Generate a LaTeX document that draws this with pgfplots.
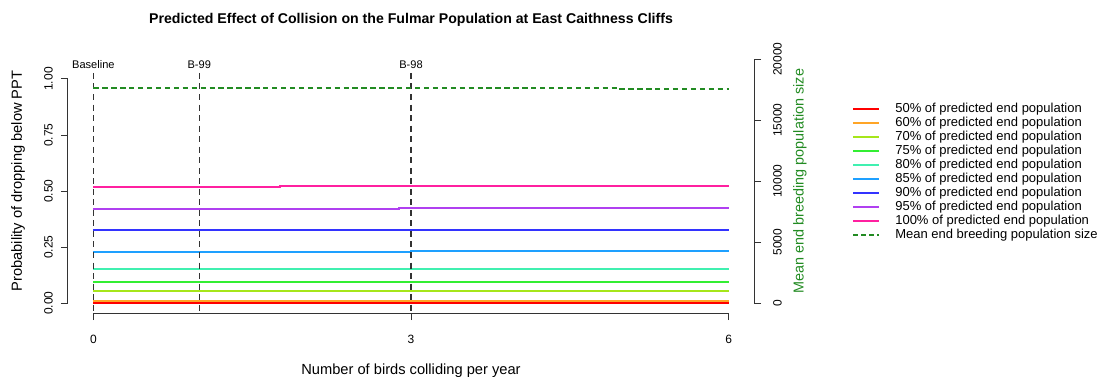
\documentclass[border=0pt]{standalone}
\usepackage{fontspec}
\setmainfont{Liberation Sans}
\usepackage{pgfplots}
\pgfplotsset{compat=1.18}

\definecolor{cfifty}{HTML}{FF0000}
\definecolor{csixty}{HTML}{FFA526}
\definecolor{cseventy}{HTML}{A6E61A}
\definecolor{cseventyfive}{HTML}{33EE33}
\definecolor{ceighty}{HTML}{40F0B0}
\definecolor{ceightyfive}{HTML}{1EA0FF}
\definecolor{cninety}{HTML}{3333FF}
\definecolor{cninetyfive}{HTML}{B040F0}
\definecolor{chundred}{HTML}{FF20A0}
\definecolor{meangreen}{HTML}{228B22}
\definecolor{axisgray}{HTML}{333333}

\pgfplotsset{
  rstyle/.style={
    scale only axis, width=514.5pt, height=198pt,
    clip=false,
    xmin=-0.24, xmax=6.24,
    axis line style={draw=none},
    tick align=outside, major tick length=5.25pt,
    tick style={axisgray, line width=0.75pt},
    /pgf/number format/assume math mode=true,
    tick label style={font=\fontsize{9}{10}\selectfont},
  },
}

\begin{document}
\begin{tikzpicture}[x=0.75pt,y=0.75pt]

% probabilities (left axis)
\begin{axis}[
  rstyle,
  ymin=-0.0446, ymax=1.1339,
  xtick={0,3,6}, ytick={0,0.25,0.5,0.75,1},
  xtick pos=bottom, ytick pos=left,
  yticklabel style={rotate=90, anchor=south, inner ysep=6pt,
    /pgf/number format/fixed, /pgf/number format/fixed zerofill,
    /pgf/number format/precision=2},
  xticklabel style={anchor=center, yshift=-14.25pt},
  ylabel={Probability of dropping below PPT},
  ylabel style={at={(rel axis cs:-0.0729,0.5)}, anchor=center,
    font=\fontsize{11}{12}\selectfont},
  xlabel={Number of birds colliding per year},
  xlabel style={at={(rel axis cs:0.5,-0.22)}, anchor=center,
    font=\fontsize{11}{12}\selectfont},
  title={\bfseries Predicted Effect of Collision on the Fulmar Population at East Caithness Cliffs},
  title style={at={(rel axis cs:0.5,1.079)}, anchor=center,
    font=\fontsize{10.6}{12}\selectfont},
  legend style={draw=none, fill=none, at={(rel axis cs:1.1429,0.799)},
    anchor=north west, inner sep=0pt, font=\fontsize{9.75}{10.5}\selectfont,
    column sep=11.25pt, row sep=0pt,
    nodes={inner sep=0pt, text height=7.5pt, text depth=3pt}},
  legend cell align=left,
  legend image code/.code={\draw[#1] (0pt,0pt) -- (19.5pt,0pt);},
  every axis plot/.append style={line width=1.5pt},
]
\coordinate (bl) at (rel axis cs:0,0);
\addplot[color=cfifty, const plot] coordinates {(0,0.001)(6,0.001)};
\addlegendentry{50\% of predicted end population}
\addplot[color=csixty, const plot] coordinates {(0,0.010)(6,0.010)};
\addlegendentry{60\% of predicted end population}
\addplot[color=cseventy, const plot] coordinates {(0,0.055)(6,0.055)};
\addlegendentry{70\% of predicted end population}
\addplot[color=cseventyfive, const plot] coordinates {(0,0.093)(6,0.093)};
\addlegendentry{75\% of predicted end population}
\addplot[color=ceighty, const plot] coordinates {(0,0.151)(6,0.151)};
\addlegendentry{80\% of predicted end population}
\addplot[color=ceightyfive, const plot] coordinates {(0,0.226)(3,0.232)(6,0.232)};
\addlegendentry{85\% of predicted end population}
\addplot[color=cninety, const plot] coordinates {(0,0.324)(5.6,0.328)(6,0.328)};
\addlegendentry{90\% of predicted end population}
\addplot[color=cninetyfive, const plot] coordinates {(0,0.420)(2.89,0.425)(6,0.425)};
\addlegendentry{95\% of predicted end population}
\addplot[color=chundred, const plot] coordinates {(0,0.518)(1.76,0.524)(6,0.524)};
\addlegendentry{100\% of predicted end population}
\addlegendimage{color=meangreen, line width=1.3pt, dash pattern=on 3.5pt off 2.5pt}
\addlegendentry{Mean end breeding population size}

% axis lines, R style
\draw[axisgray, line width=0.75pt] (axis cs:0,-0.0446) -- (axis cs:6,-0.0446);
\draw[axisgray, line width=0.75pt] (axis cs:-0.24,0) -- (axis cs:-0.24,1);

% scenario markers
\foreach \s/\lab in {0/Baseline,1/B-99,3/B-98}{
  \edef\tmp{\noexpand\draw[axisgray, line width=0.85pt, dash pattern=on 4.5pt off 3.4pt]
    (axis cs:\s,1.027) -- (axis cs:\s,-0.0446);}\tmp
  \edef\tmp{\noexpand\node[font=\noexpand\fontsize{8.3}{9}\noexpand\selectfont, inner sep=0pt]
    at (axis cs:\s,1.0625) {\lab};}\tmp
}
\end{axis}

% population size (right axis)
\begin{axis}[
  rstyle,
  ymin=-820, ymax=20820,
  hide x axis,
  scaled y ticks=false,
  ytick={0,5000,10000,15000,20000},
  ytick pos=right, yticklabel pos=right,
  yticklabel style={rotate=90, anchor=north, inner ysep=9pt,
    /pgf/number format/fixed, /pgf/number format/1000 sep={}},
  ylabel={Mean end breeding population size},
  ylabel style={at={(rel axis cs:1.067,0.5)}, anchor=center, rotate=0,
    text=meangreen, font=\fontsize{10.8}{12}\selectfont},
]
\addplot[color=meangreen, line width=1.2pt, dash pattern=on 4pt off 2.7pt, const plot]
  coordinates {(0,17620)(4.95,17530)(6,17530)};
\draw[axisgray, line width=0.75pt] (axis cs:6.24,0) -- (axis cs:6.24,20000);
\end{axis}

\pgfresetboundingbox
\path[use as bounding box] (bl) ++(-68,-63) rectangle ++(1099,376);
\end{tikzpicture}
\end{document}
